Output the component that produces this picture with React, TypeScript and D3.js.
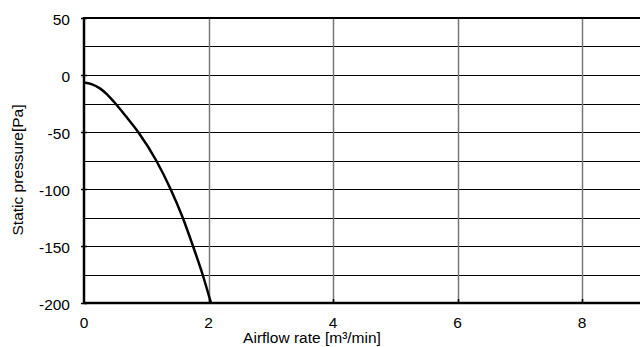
import React from "react";
import * as d3 from "d3";

const flow = [0, 0.12, 0.25, 0.37, 0.48, 0.67, 0.87, 1.16, 1.39, 1.585, 1.75, 1.905, 2.04];
const pressure = [-6.5, -8, -11.5, -17, -23.5, -36, -50, -75, -100, -125, -150, -175, -200];
const xTicks = [0, 2, 4, 6, 8];
const yTicks = [50, 0, -50, -100, -150, -200];
const yGrid = [25, 0, -25, -50, -75, -100, -125, -150, -175];
const xGrid = [2, 4, 6, 8];

export default function App() {
  const W = 640, H = 347;
  const left = 84, top = 18, bottom = 303;
  const x = d3.scaleLinear().domain([0, 10]).range([left, left + 62.25 * 10]);
  const y = d3.scaleLinear().domain([-200, 50]).range([bottom, top]);
  const pts = flow.map((f, i) => [f, pressure[i]] as [number, number]);
  const line = d3.line<[number, number]>().x(d => x(d[0])).y(d => y(d[1])).curve(d3.curveMonotoneX);
  const font = "'Liberation Sans', Arial, sans-serif";
  return (
    <svg width={W} height={H} style={{ position: "absolute", left: 0, top: 0 }} fontFamily={font}>
      <rect width={W} height={H} fill="#fff" />
      {yGrid.map(v => (
        <line key={"hy" + v} x1={left} x2={W} y1={Math.round(y(v)) + 0.5} y2={Math.round(y(v)) + 0.5} stroke="#000" strokeWidth={1} />
      ))}
      {xGrid.map(v => (
        <line key={"vx" + v} x1={Math.round(x(v)) + 0.5} x2={Math.round(x(v)) + 0.5} y1={top} y2={bottom} stroke="#777" strokeWidth={1.5} />
      ))}
      {xGrid.map(v => (
        <line key={"tx" + v} x1={Math.round(x(v)) + 0.5} x2={Math.round(x(v)) + 0.5} y1={bottom - 4} y2={bottom} stroke="#000" strokeWidth={1.5} />
      ))}
      {yTicks.map(v => (
        <line key={"ty" + v} x1={left - 3} x2={left + 3} y1={Math.round(y(v)) + 0.5} y2={Math.round(y(v)) + 0.5} stroke="#000" strokeWidth={1.5} />
      ))}
      <line x1={left} x2={W} y1={top} y2={top} stroke="#000" strokeWidth={2} />
      <line x1={left} x2={W} y1={bottom} y2={bottom} stroke="#000" strokeWidth={2.5} />
      <line x1={left} x2={left} y1={top - 1} y2={bottom + 1} stroke="#000" strokeWidth={2.5} />
      <path d={line(pts) || ""} fill="none" stroke="#000" strokeWidth={2.5} />
      {yTicks.map(v => (
        <text key={"ly" + v} x={70} y={y(v) + 7} textAnchor="end" fontSize={15.5}>{v}</text>
      ))}
      {xTicks.map(v => (
        <text key={"lx" + v} x={x(v)} y={327.5} textAnchor="middle" fontSize={15.5}>{v}</text>
      ))}
      <text x={312} y={343} textAnchor="middle" fontSize={15.5}>Airflow rate [m³/min]</text>
      <text transform={`translate(23,170) rotate(-90)`} textAnchor="middle" fontSize={15.5}>Static pressure[Pa]</text>
    </svg>
  );
}
